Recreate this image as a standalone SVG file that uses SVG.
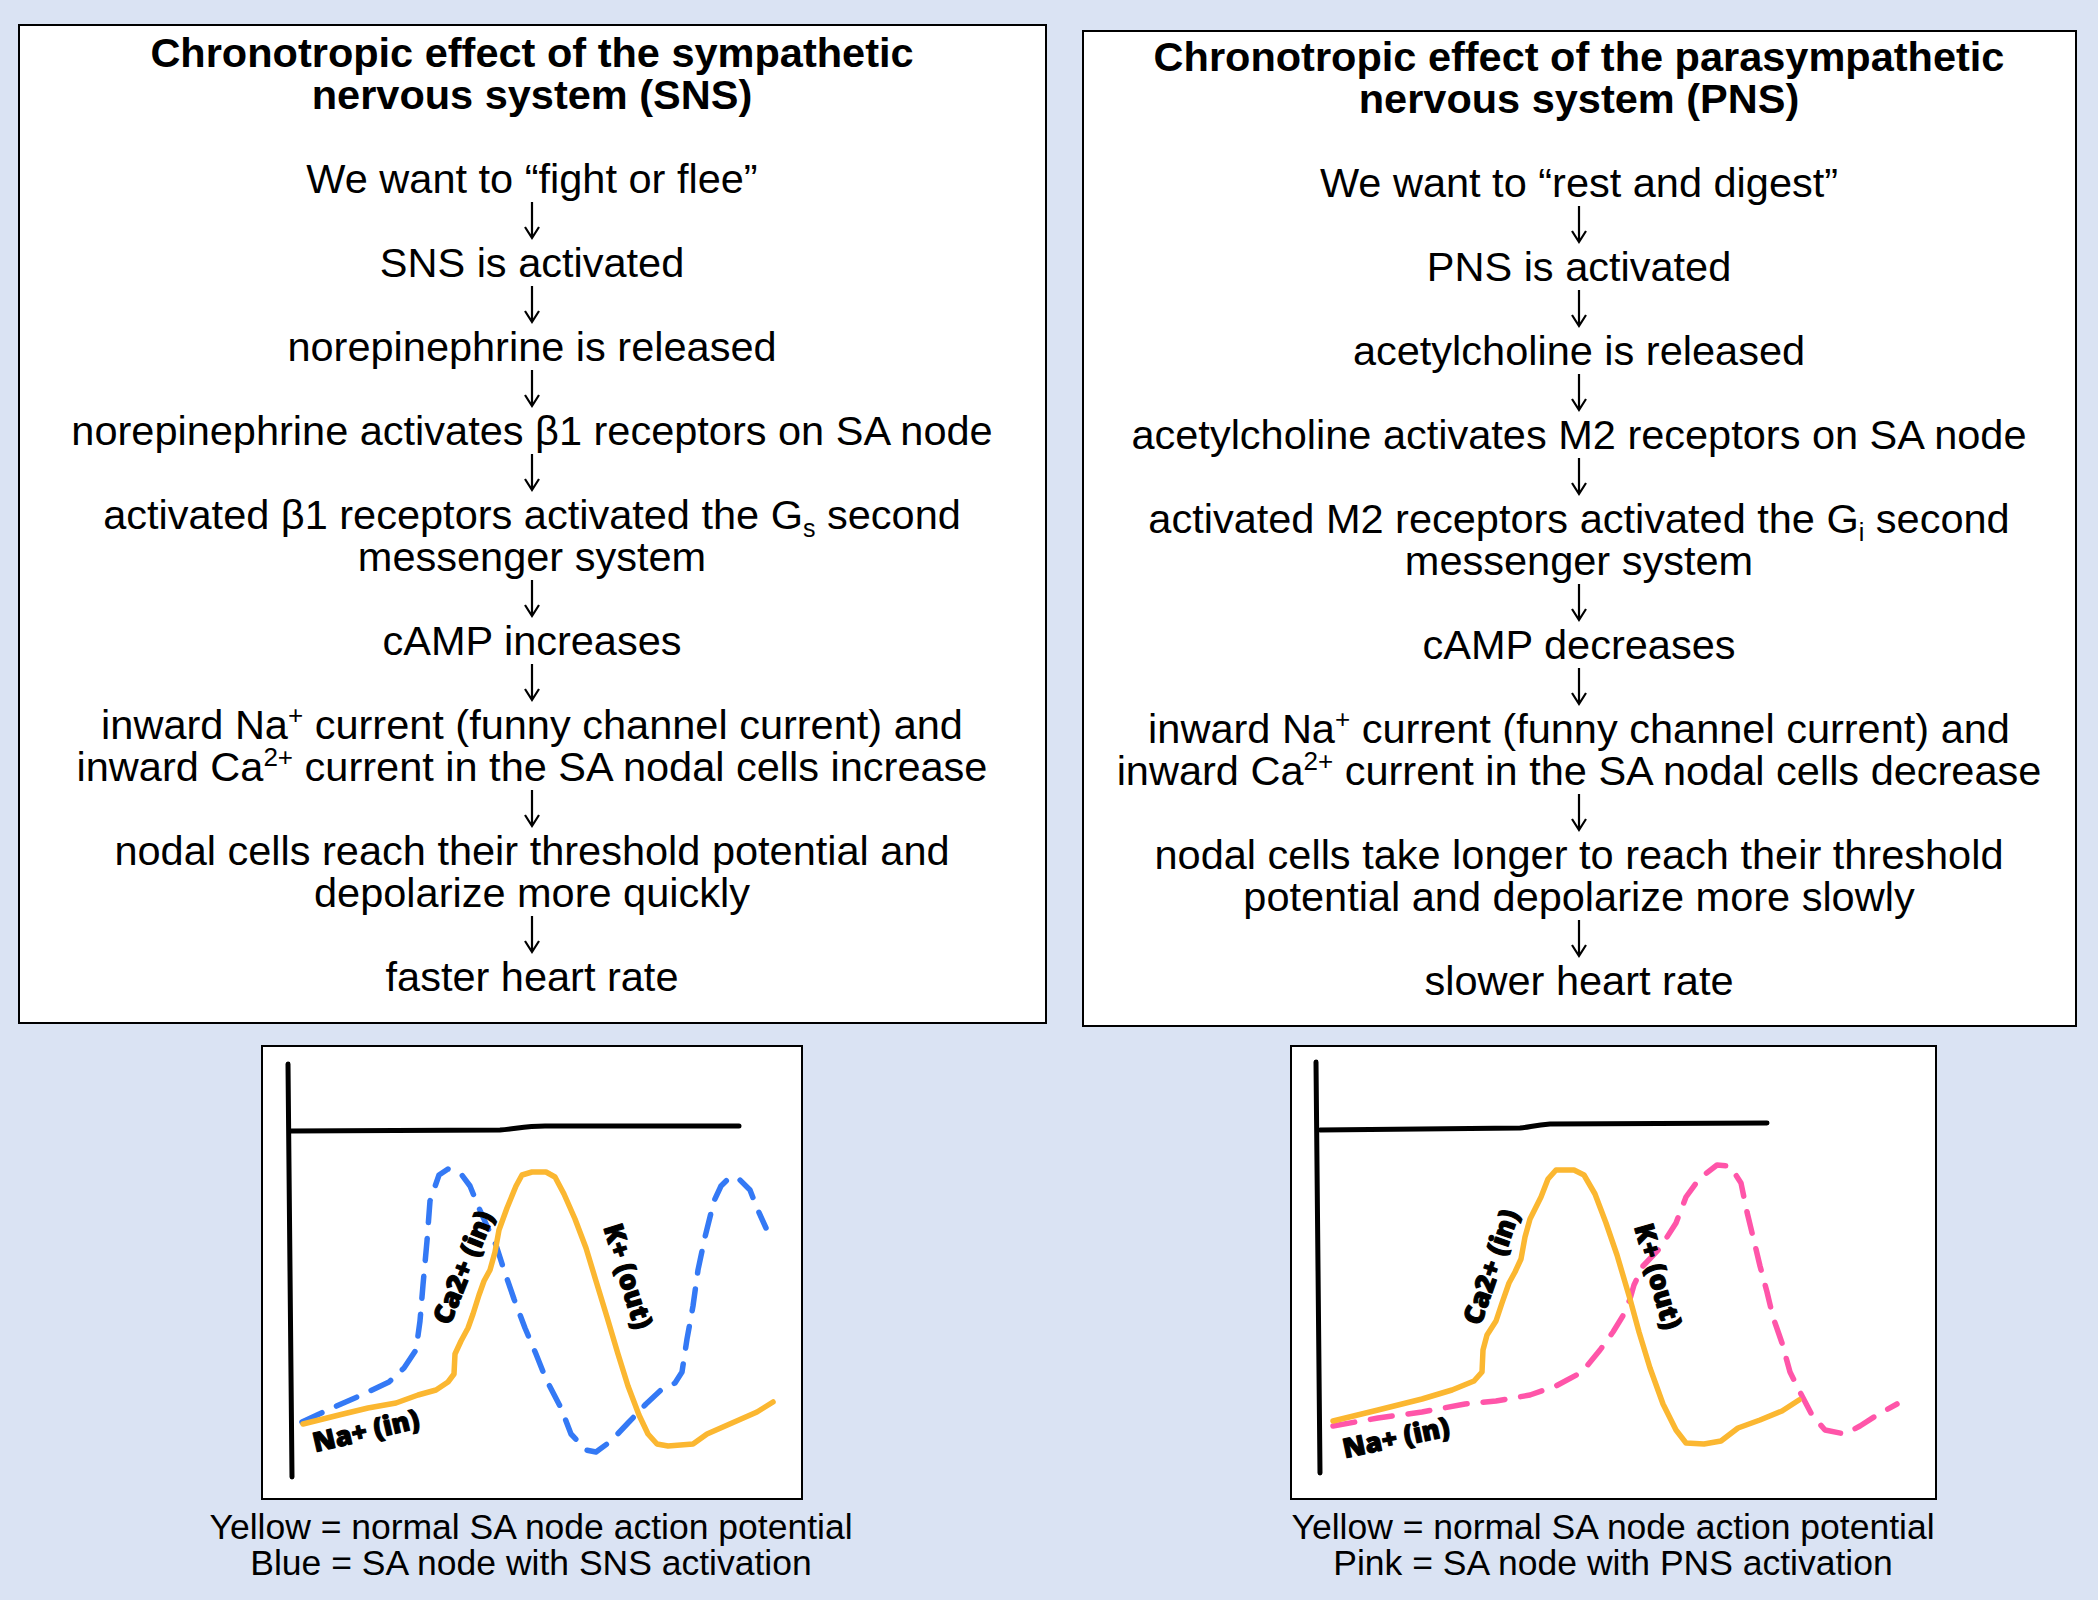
<svg xmlns="http://www.w3.org/2000/svg" xmlns:xlink="http://www.w3.org/1999/xlink" width="2098" height="1600" viewBox="0 0 2098 1600">
<defs>
<style>
.box{fill:#fff;stroke:#000;stroke-width:2}
.t{font-family:"Liberation Sans",Arial,Helvetica,sans-serif;fill:#000;text-anchor:middle}
.title{font-size:41.5px;font-weight:bold}
.body{font-size:41.5px}
.cap{font-size:35.5px}
.arr{fill:none;stroke:#000;stroke-width:2.2}
.ax{fill:none;stroke:#000;stroke-width:5;stroke-linecap:round;stroke-linejoin:round}
.yel{fill:none;stroke:#fbb731;stroke-width:5.5;stroke-linecap:round;stroke-linejoin:round}
.blue{fill:none;stroke:#3479f5;stroke-width:5.5;stroke-linecap:round;stroke-linejoin:round;stroke-dasharray:22 16}
.pink{fill:none;stroke:#ff55a9;stroke-width:5.5;stroke-linecap:round;stroke-linejoin:round;stroke-dasharray:22 16}
.lbl{font-family:"Open Sans","Noto Sans",sans-serif;font-weight:800;font-size:27px;fill:#000;stroke:#000;stroke-width:1.1;stroke-linejoin:round;text-anchor:middle}
</style>
<path id="arrow" class="arr" d="M0,0 V36 M-7,25 L0,36 L7,25"/>
</defs>
<rect x="0" y="0" width="2098" height="1600" fill="#dae3f3"/>

<g id="sns-panel">
<rect class="box" x="19" y="25" width="1027" height="998"/>
<g id="sns-title"><text class="t title" x="532" y="67">Chronotropic effect of the sympathetic</text><text class="t title" x="532" y="109">nervous system (SNS)</text></g>
<g id="sns-1"><text class="t body" x="532" y="193">We want to “fight or flee”</text></g>
<g id="sns-2"><text class="t body" x="532" y="277">SNS is activated</text></g>
<g id="sns-3"><text class="t body" x="532" y="361">norepinephrine is released</text></g>
<g id="sns-4"><text class="t body" x="532" y="445">norepinephrine activates β1 receptors on SA node</text></g>
<g id="sns-5"><text class="t body" x="532" y="529">activated β1 receptors activated the G<tspan font-size="25" dy="8">s</tspan><tspan dy="-8"> second</tspan></text><text class="t body" x="532" y="571">messenger system</text></g>
<g id="sns-6"><text class="t body" x="532" y="655">cAMP increases</text></g>
<g id="sns-7"><text class="t body" x="532" y="739">inward Na<tspan font-size="26" dy="-15">+</tspan><tspan dy="15"> current (funny channel current) and</tspan></text><text class="t body" x="532" y="781">inward Ca<tspan font-size="26" dy="-15">2+</tspan><tspan dy="15"> current in the SA nodal cells increase</tspan></text></g>
<g id="sns-8"><text class="t body" x="532" y="865">nodal cells reach their threshold potential and</text><text class="t body" x="532" y="907">depolarize more quickly</text></g>
<g id="sns-9"><text class="t body" x="532" y="991">faster heart rate</text></g>
</g>

<g id="pns-panel">
<rect class="box" x="1083" y="31" width="993" height="995"/>
<g id="pns-title"><text class="t title" x="1579" y="71">Chronotropic effect of the parasympathetic</text><text class="t title" x="1579" y="113">nervous system (PNS)</text></g>
<g id="pns-1"><text class="t body" x="1579" y="197">We want to “rest and digest”</text></g>
<g id="pns-2"><text class="t body" x="1579" y="281">PNS is activated</text></g>
<g id="pns-3"><text class="t body" x="1579" y="365">acetylcholine is released</text></g>
<g id="pns-4"><text class="t body" x="1579" y="449">acetylcholine activates M2 receptors on SA node</text></g>
<g id="pns-5"><text class="t body" x="1579" y="533">activated M2 receptors activated the G<tspan font-size="25" dy="8">i</tspan><tspan dy="-8"> second</tspan></text><text class="t body" x="1579" y="575">messenger system</text></g>
<g id="pns-6"><text class="t body" x="1579" y="659">cAMP decreases</text></g>
<g id="pns-7"><text class="t body" x="1579" y="743">inward Na<tspan font-size="26" dy="-15">+</tspan><tspan dy="15"> current (funny channel current) and</tspan></text><text class="t body" x="1579" y="785">inward Ca<tspan font-size="26" dy="-15">2+</tspan><tspan dy="15"> current in the SA nodal cells decrease</tspan></text></g>
<g id="pns-8"><text class="t body" x="1579" y="869">nodal cells take longer to reach their threshold</text><text class="t body" x="1579" y="911">potential and depolarize more slowly</text></g>
<g id="pns-9"><text class="t body" x="1579" y="995">slower heart rate</text></g>
</g>

<g id="connectors">
<use href="#arrow" x="532" y="202"/>
<use href="#arrow" x="532" y="286"/>
<use href="#arrow" x="532" y="370"/>
<use href="#arrow" x="532" y="454"/>
<use href="#arrow" x="532" y="580"/>
<use href="#arrow" x="532" y="664"/>
<use href="#arrow" x="532" y="790"/>
<use href="#arrow" x="532" y="916"/>
<use href="#arrow" x="1579" y="206"/>
<use href="#arrow" x="1579" y="290"/>
<use href="#arrow" x="1579" y="374"/>
<use href="#arrow" x="1579" y="458"/>
<use href="#arrow" x="1579" y="584"/>
<use href="#arrow" x="1579" y="668"/>
<use href="#arrow" x="1579" y="794"/>
<use href="#arrow" x="1579" y="920"/>
</g>

<g id="sns-graph">
<rect class="box" x="262" y="1046" width="540" height="453"/>
<path class="ax" d="M288,1064 L292,1477"/>
<path class="ax" d="M291,1131 L500,1130 C515,1129 525,1126 545,1126 L739,1126"/>
<path class="blue" d="M302,1422 L332,1408 L357,1397 L389,1382 L404,1368 L416,1350 L420,1321 L423,1285 L427,1241 L430,1201 L439,1175 L448,1169 L461,1174 L470,1186 L479,1208 L487,1226 L496,1245 L504,1270 L514,1299 L525,1328 L536,1354 L546,1379 L561,1408 L571,1434 L586,1450 L596,1452 L611,1441 L628,1423 L646,1404 L661,1390 L675,1383 L682,1372 L687,1339 L693,1306 L698,1270 L705,1237 L714,1201 L721,1186 L730,1177 L739,1179 L750,1190 L757,1208 L766,1228"/>
<path class="yel" d="M303,1424 L339,1415 L368,1408 L396,1403 L418,1395 L436,1390 L448,1382 L454,1374 L455,1354 L461,1341 L468,1328 L473,1314 L479,1295 L484,1281 L490,1270 L495,1252 L499,1230 L507,1208 L516,1186 L522,1175 L532,1172 L546,1172 L555,1177 L564,1194 L575,1219 L586,1248 L596,1281 L607,1317 L618,1354 L628,1386 L639,1415 L648,1434 L657,1444 L668,1446 L693,1444 L707,1434 L732,1423 L757,1412 L773,1402"/>
<text class="lbl" transform="translate(368,1440) rotate(-13)">Na+ (in)</text>
<text class="lbl" transform="translate(472,1271) rotate(-68)">Ca2+ (in)</text>
<text class="lbl" transform="translate(619,1279) rotate(73)">K+ (out)</text>
<text class="t cap" x="531" y="1539">Yellow = normal SA node action potential</text>
<text class="t cap" x="531" y="1575">Blue = SA node with SNS activation</text>
</g>

<g id="pns-graph">
<rect class="box" x="1291" y="1046" width="645" height="453"/>
<path class="ax" d="M1316,1062 L1320,1473"/>
<path class="ax" d="M1320,1130 L1520,1128 C1530,1127 1535,1125 1550,1124 L1767,1123"/>
<path class="pink" d="M1333,1426 L1378,1418 L1422,1412 L1465,1404 L1496,1401 L1530,1395 L1556,1386 L1582,1372 L1600,1350 L1613,1332 L1624,1314 L1630,1299 L1634,1285 L1643,1266 L1660,1248 L1676,1223 L1686,1197 L1699,1179 L1717,1165 L1730,1166 L1741,1183 L1747,1212 L1754,1241 L1760,1266 L1767,1292 L1773,1317 L1782,1343 L1790,1372 L1801,1394 L1812,1415 L1825,1430 L1845,1434 L1860,1426 L1877,1415 L1897,1404"/>
<path class="yel" d="M1333,1421 L1378,1410 L1422,1399 L1452,1390 L1474,1381 L1482,1372 L1483,1350 L1487,1335 L1496,1321 L1502,1303 L1509,1283 L1515,1272 L1521,1259 L1525,1237 L1530,1219 L1541,1197 L1548,1179 L1556,1170 L1574,1170 L1584,1175 L1595,1194 L1606,1223 L1617,1255 L1630,1299 L1639,1332 L1650,1368 L1663,1404 L1676,1430 L1686,1443 L1704,1444 L1721,1441 L1738,1428 L1760,1420 L1782,1411 L1799,1400"/>
<text class="lbl" transform="translate(1398,1447) rotate(-12)">Na+ (in)</text>
<text class="lbl" transform="translate(1500,1270) rotate(-71)">Ca2+ (in)</text>
<text class="lbl" transform="translate(1649,1279) rotate(74)">K+ (out)</text>
<text class="t cap" x="1613" y="1539">Yellow = normal SA node action potential</text>
<text class="t cap" x="1613" y="1575">Pink = SA node with PNS activation</text>
</g>
</svg>
